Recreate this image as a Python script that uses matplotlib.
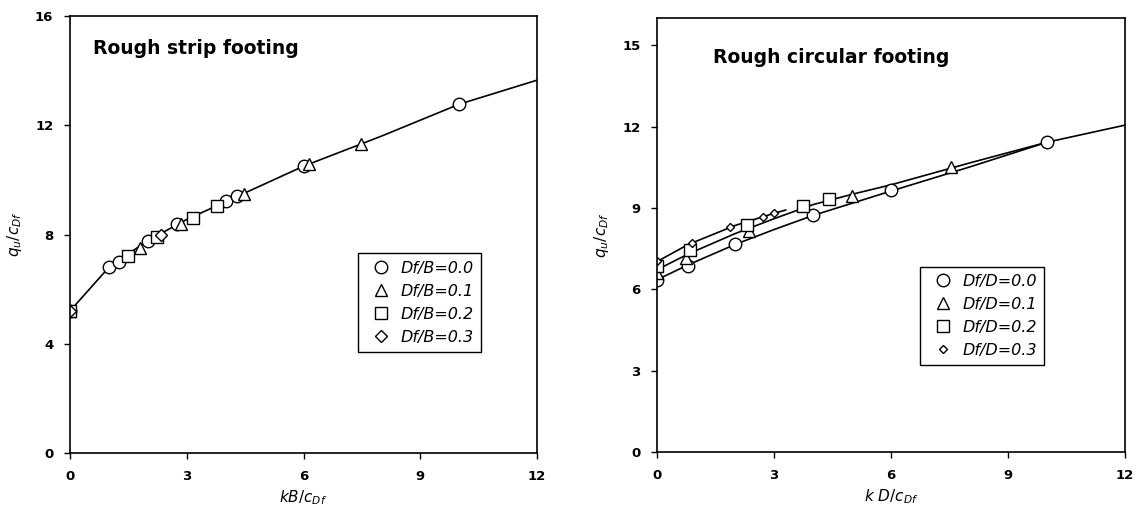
import matplotlib
matplotlib.use('Agg')
import matplotlib.pyplot as plt

plt.rcParams['font.family'] = ['DejaVu Sans']
plt.rcParams['mathtext.fontset'] = 'dejavusans'

# ---- strip footing (left) ----
strip_curve_x = [0, 1, 2, 3, 4, 6, 8, 10, 12]
strip_curve_y = [5.2, 6.8, 7.78, 8.55, 9.2, 10.5, 11.6, 12.77, 13.65]

strip_c_x = [0, 1.0, 1.25, 2.0, 2.75, 4.0, 4.3, 6.0, 10.0]
strip_c_y = [5.2, 6.8, 7.0, 7.78, 8.38, 9.22, 9.42, 10.52, 12.77]
strip_t_x = [0, 1.8, 2.86, 4.46, 6.15, 7.48]
strip_t_y = [5.2, 7.5, 8.37, 9.47, 10.58, 11.31]
strip_s_x = [0, 1.5, 2.24, 3.17, 3.78]
strip_s_y = [5.2, 7.2, 7.9, 8.6, 9.05]
strip_d_x = [0, 2.34]
strip_d_y = [5.2, 8.0]

# ---- circular footing (right) ----
circ_low_x = [0, 0.8, 2, 3, 4, 6, 8, 10, 12]
circ_low_y = [6.35, 6.9, 7.65, 8.2, 8.72, 9.62, 10.5, 11.42, 12.05]
circ_mid_x = [0, 0.8, 2, 3, 4, 5, 6, 8, 10]
circ_mid_y = [6.72, 7.3, 8.05, 8.6, 9.12, 9.5, 9.85, 10.65, 11.42]
circ_top_x = [0, 0.8, 2, 3, 3.3]
circ_top_y = [7.02, 7.65, 8.35, 8.8, 8.92]

circ_c_x = [0, 0.8, 2.0, 4.0, 6.0, 10.0]
circ_c_y = [6.35, 6.87, 7.67, 8.72, 9.67, 11.42]
circ_t_x = [0, 0.75, 2.35, 5.0, 7.55]
circ_t_y = [6.6, 7.15, 8.15, 9.44, 10.5]
circ_s_x = [0, 0.85, 2.3, 3.75, 4.4]
circ_s_y = [6.85, 7.45, 8.38, 9.07, 9.33]
circ_d_x = [0, 0.9, 1.87, 2.73, 3.0]
circ_d_y = [7.05, 7.72, 8.29, 8.66, 8.8]

fig = plt.figure(figsize=(11.4, 5.13), dpi=100)
ax1 = fig.add_axes([70 / 1140, 1 - 453 / 513, 467 / 1140, 437 / 513])
ax2 = fig.add_axes([657 / 1140, 1 - 452 / 513, 468 / 1140, 434 / 513])

mk = dict(linestyle='none', markerfacecolor='white', markeredgecolor='black',
          markeredgewidth=1.0)


def style_axes(ax, yticks, xlabel, title, title_x, title_y):
    ax.set_xlim(0, 12)
    ax.set_ylim(0, 16)
    ax.set_xticks([0, 3, 6, 9, 12])
    ax.set_yticks(yticks)
    ax.tick_params(direction='out', length=4, width=1, labelsize=9.5, pad=8)
    for lab in ax.get_xticklabels() + ax.get_yticklabels():
        lab.set_fontweight('bold')
    for sp in ax.spines.values():
        sp.set_linewidth(1.2)
    ax.set_xlabel(xlabel, fontsize=11, labelpad=4)
    ax.set_ylabel(r'$q_u/c_{Df}$', fontsize=11, labelpad=8)
    ax.text(title_x, title_y, title, transform=ax.transAxes, fontsize=13.5,
            fontweight='bold', va='center', ha='left')


def add_legend(ax, anchor):
    leg = ax.legend(loc='upper left', bbox_to_anchor=anchor,
                    fancybox=False, edgecolor='black', framealpha=1,
                    prop={'style': 'italic', 'size': 11.5}, handlelength=2.0,
                    handletextpad=0.2, labelspacing=0.5, borderpad=0.45)
    leg.get_frame().set_linewidth(1.0)


# left panel
ax1.plot(strip_curve_x, strip_curve_y, color='black', lw=1.2)
ax1.plot(strip_c_x, strip_c_y, marker='o', ms=9, label='Df/B=0.0', **mk)
ax1.plot(strip_t_x, strip_t_y, marker='^', ms=9, label='Df/B=0.1', **mk)
ax1.plot(strip_s_x, strip_s_y, marker='s', ms=9, label='Df/B=0.2', **mk)
ax1.plot(strip_d_x, strip_d_y, marker='D', ms=6.5, label='Df/B=0.3', **mk)
style_axes(ax1, [0, 4, 8, 12, 16], r'$kB/c_{Df}$', 'Rough strip footing',
           0.05, 0.925)
add_legend(ax1, (0.6, 0.475))

# right panel
for xs, ys in [(circ_low_x, circ_low_y), (circ_mid_x, circ_mid_y),
               (circ_top_x, circ_top_y)]:
    ax2.plot(xs, ys, color='black', lw=1.2)
ax2.plot(circ_c_x, circ_c_y, marker='o', ms=9, label='Df/D=0.0', **mk)
ax2.plot(circ_t_x, circ_t_y, marker='^', ms=8, label='Df/D=0.1', **mk)
ax2.plot(circ_s_x, circ_s_y, marker='s', ms=9, label='Df/D=0.2', **mk)
ax2.plot(circ_d_x, circ_d_y, marker='D', ms=4.5, label='Df/D=0.3', **mk)
style_axes(ax2, [0, 3, 6, 9, 12, 15], r'$k\ D/c_{Df}$', 'Rough circular footing',
           0.12, 0.91)
add_legend(ax2, (0.545, 0.445))

fig.savefig('out.png', dpi=100)
